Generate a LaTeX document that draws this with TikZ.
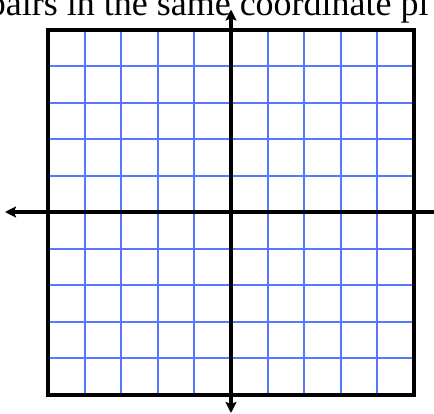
\documentclass[tikz,border=0pt]{standalone}
\usepackage{fontspec}
\setmainfont{Liberation Serif}
\usetikzlibrary{arrows.meta}
\definecolor{gridblue}{RGB}{85,120,255}
\tikzset{
  gridline/.style={draw=gridblue, line width=2pt},
  frame/.style={draw=black, line width=4pt},
  axis/.style={draw=black, line width=4.2pt, -{Stealth[length=11pt,width=11pt,inset=2pt]}},
  caption/.style={inner sep=0pt, anchor=base west, font=\fontsize{36}{40}\selectfont}
}
\begin{document}
\begin{tikzpicture}[x=1pt,y=-1pt]
  \useasboundingbox (0,0) rectangle (434,413);
  \clip (0,0) rectangle (434,413);
  \fill[white] (0,0) rectangle (434,413);
  \node[caption] (title) at (-12.4,15.3) {pairs in the same coordinate pl};
  % grid
  \foreach \i in {1,...,9} {
    \draw[gridline] ({48+36.6*\i},29.5) -- ({48+36.6*\i},394.5);
    \draw[gridline] (48,{29.5+36.5*\i}) -- (414,{29.5+36.5*\i});
  }
  \draw[frame] (48,29.5) rectangle (414,394.5);
  % axes
  \coordinate (center) at (231,212);
  \coordinate (top) at (231,9.5);
  \coordinate (bottom) at (231,413);
  \coordinate (left) at (5,212);
  \coordinate (right) at (446,212);
  \draw[axis] (center) -- (top);
  \draw[axis] (center) -- (bottom);
  \draw[axis] (center) -- (left);
  \draw[axis] (center) -- (right);
\end{tikzpicture}
\end{document}
